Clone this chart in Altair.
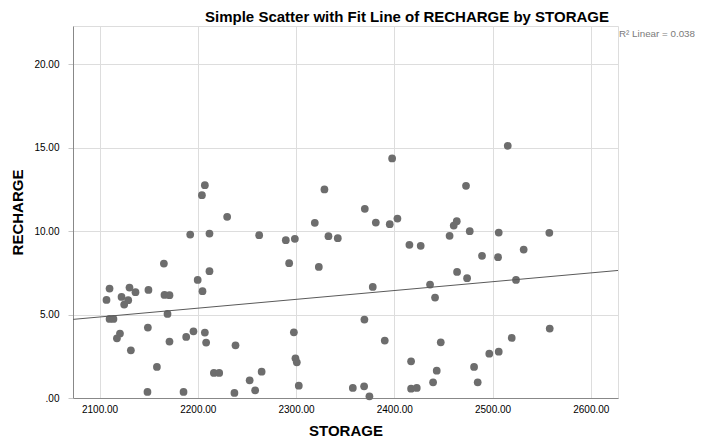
import altair as alt
import pandas as pd

storage = [2207.2, 2204.2, 2229.9, 2192.3, 2211.9, 2262.5, 2165.5, 2211.9, 2199.9, 2204.8,
           2110.2, 2107.1, 2130.5, 2136.6, 2122.4, 2129.2, 2125.1, 2149.8, 2166.1, 2171.2,
           2169.2, 2110.2, 2114.2, 2120.8, 2117.7, 2149.2, 2131.9, 2171.2, 2188.2, 2195.6,
           2207.2, 2208.5, 2238.4, 2158.4, 2216.4, 2221.8, 2265.0, 2252.8, 2258.4, 2237.3,
           2148.8, 2185.5, 2397.8, 2328.9, 2370.0, 2319.1, 2381.2, 2395.4, 2403.2, 2289.6,
           2298.8, 2333.0, 2342.5, 2415.4, 2426.9, 2456.3, 2293.0, 2323.2, 2378.1, 2436.4,
           2441.5, 2463.9, 2474.1, 2369.6, 2297.8, 2390.3, 2447.3, 2299.4, 2300.8, 2417.1,
           2443.2, 2302.8, 2357.8, 2369.3, 2374.7, 2417.1, 2422.9, 2439.5, 2515.5, 2473.0,
           2463.6, 2460.5, 2476.8, 2506.3, 2557.8, 2489.3, 2505.6, 2531.7, 2523.9, 2558.2,
           2519.5, 2506.3, 2496.7, 2481.2, 2484.9]
recharge = [12.76, 12.16, 10.86, 9.80, 9.86, 9.76, 8.06, 7.60, 7.08, 6.40,
            6.56, 5.88, 6.62, 6.34, 6.06, 5.86, 5.60, 6.48, 6.18, 6.16,
            5.04, 4.74, 4.74, 3.86, 3.58, 4.22, 2.86, 3.38, 3.66, 4.00,
            3.92, 3.32, 3.16, 1.86, 1.50, 1.50, 1.58, 1.06, 0.46, 0.30,
            0.36, 0.36, 14.36, 12.50, 11.34, 10.50, 10.52, 10.42, 10.76, 9.46,
            9.54, 9.70, 9.58, 9.18, 9.12, 9.72, 8.08, 7.86, 6.66, 6.80,
            6.02, 7.56, 7.18, 4.70, 3.94, 3.44, 3.34, 2.38, 2.14, 2.20,
            1.64, 0.74, 0.60, 0.70, 0.10, 0.56, 0.60, 0.94, 15.12, 12.72,
            10.60, 10.34, 10.00, 9.92, 9.90, 8.52, 8.44, 8.90, 7.08, 4.16,
            3.60, 2.78, 2.66, 1.86, 0.94]

x_ticks = [2100, 2200, 2300, 2400, 2500, 2600]
y_ticks = [0, 5, 10, 15, 20]
x_domain = [2073, 2627.7]
y_domain = [0, 22.3]

title_text = ["Simple Scatter with Fit Line of RECHARGE by STORAGE"]
r2_text = ["R² Linear = 0.038"]

df = pd.DataFrame({"STORAGE": storage, "RECHARGE": recharge})

FONT = "Liberation Sans"

x_enc = alt.X("STORAGE:Q",
              scale=alt.Scale(domain=x_domain, nice=False, zero=False),
              axis=alt.Axis(values=x_ticks, format=".2f", title="STORAGE",
                            grid=True, ticks=False, labelPadding=6,
                            titlePadding=9, titleFontSize=15,
                            titleFontWeight="bold", titleFont=FONT))
y_enc = alt.Y("RECHARGE:Q",
              scale=alt.Scale(domain=y_domain, nice=False),
              axis=alt.Axis(values=y_ticks,
                            labelExpr="datum.value == 0 ? '.00' : format(datum.value, '.2f')",
                            title="RECHARGE", grid=True, ticks=True, tickSize=5,
                            tickColor="#c8c8c8",
                            labelPadding=9, titlePadding=8, titleFontSize=15,
                            titleFontWeight="bold", titleFont=FONT))

points = alt.Chart(df).mark_circle(size=60, color="#6d6d6d", opacity=1).encode(
    x=x_enc, y=y_enc
)

fit = alt.Chart(df).transform_regression(
    "STORAGE", "RECHARGE", extent=x_domain
).mark_line(color="#5a5a5a", strokeWidth=1, clip=True).encode(
    x=alt.X("STORAGE:Q"), y=alt.Y("RECHARGE:Q")
)

r2 = alt.Chart(pd.DataFrame({"t": r2_text})).mark_text(
    align="left", baseline="middle", fontSize=9.8, color="#7a7a7a", font=FONT
).encode(text="t:N", x=alt.value(546), y=alt.value(8))

title = alt.Chart(pd.DataFrame({"t": title_text})).mark_text(
    align="center", baseline="alphabetic", fontSize=15, fontWeight="bold",
    color="#000000", font=FONT
).encode(text="t:N", x=alt.value(334), y=alt.value(-4))

chart = alt.layer(points, fit, r2, title).properties(
    width=545, height=372,
    padding={"left": 65, "top": 18, "right": 77, "bottom": 41},
    autosize=alt.AutoSizeParams(type="none"),
).configure_view(stroke=None).configure_axis(
    labelFont=FONT, labelFontSize=10.5, labelColor="#222222",
    titleColor="#111111",
    gridColor="#c8c8c8", gridWidth=1, domainColor="#9a9a9a", domainWidth=1.2,
).configure(background="white")

chart.save("out.html", embed_options={"renderer": "svg", "actions": False})
